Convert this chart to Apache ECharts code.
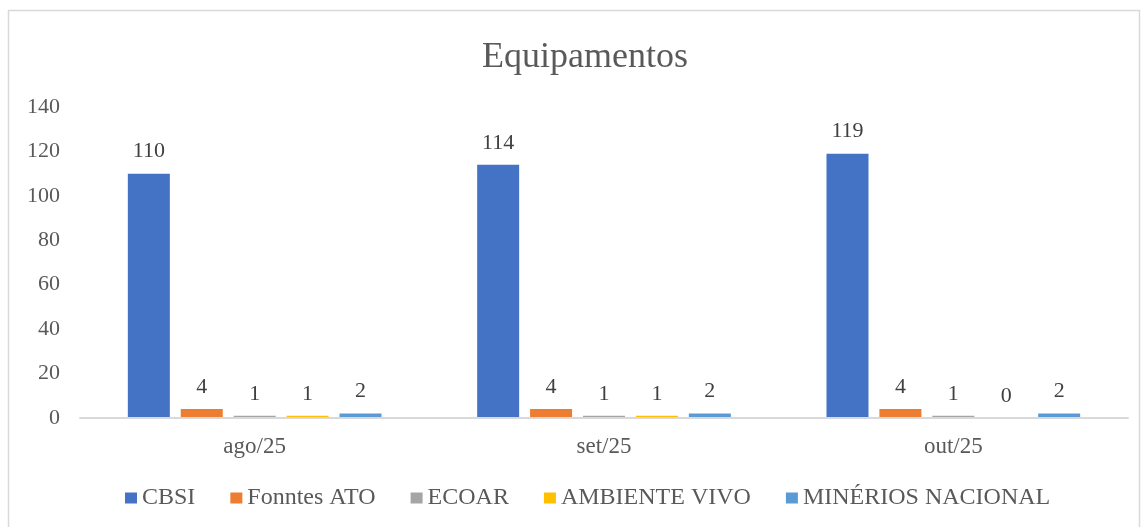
<!DOCTYPE html>
<html>
<head>
<meta charset="utf-8">
<script src="https://cdn.jsdelivr.net/npm/echarts@6/dist/echarts.min.js"></script>
<style>
  html, body { margin: 0; padding: 0; background: #fff; }
  #chart { width: 1148px; height: 527px; }
</style>
</head>
<body>
<div id="chart"></div>
<script>
// dados do gráfico
const categories = ['ago/25', 'set/25', 'out/25']
const seriesNames = ['CBSI', 'Fonntes ATO', 'ECOAR', 'AMBIENTE VIVO', 'MINÉRIOS NACIONAL']
const cbsi = [110, 114, 119]
const fonntesAto = [4, 4, 4]
const ecoar = [1, 1, 1]
const ambienteVivo = [1, 1, 0]
const minerios = [2, 2, 2]
const colors = ['#4472C4', '#ED7D31', '#A5A5A5', '#FFC000', '#5B9BD5']

const font = '"Liberation Serif", "Times New Roman", serif'
const values = [cbsi, fonntesAto, ecoar, ambienteVivo, minerios]

const chart = echarts.init(document.getElementById('chart'))

const series = seriesNames.map((name, i) => ({
  name: name,
  type: 'bar',
  data: values[i],
  barWidth: 42,
  barGap: '26%',
  itemStyle: { color: colors[i] },
  label: {
    show: true,
    position: 'top',
    distance: 11,
    color: '#404040',
    fontFamily: font,
    fontSize: 22
  }
}))

chart.setOption({
  backgroundColor: '#fff',
  animation: false,
  color: colors,
  graphic: [{
    type: 'rect',
    shape: { x: 8.5, y: 10.5, width: 1131, height: 530 },
    style: { fill: 'none', stroke: '#D9D9D9', lineWidth: 1.5 },
    silent: true
  }],
  title: {
    text: 'Equipamentos',
    left: 477,
    top: 35,
    textStyle: {
      fontFamily: font,
      fontSize: 36,
      fontWeight: 'normal',
      color: '#595959'
    }
  },
  legend: {
    data: seriesNames,
    bottom: 12,
    left: 120,
    itemWidth: 12,
    itemHeight: 11,
    itemGap: 35,
    icon: 'rect',
    textStyle: {
      fontFamily: font,
      fontSize: 24,
      color: '#595959'
    }
  },
  grid: {
    left: 80,
    right: 20,
    top: 107,
    bottom: 109,
    containLabel: false
  },
  xAxis: {
    type: 'category',
    data: categories,
    z: 3,
    axisLine: { lineStyle: { color: '#D9D9D9', width: 2 } },
    axisTick: { show: false },
    axisLabel: {
      fontFamily: font,
      fontSize: 23,
      color: '#595959',
      margin: 17
    }
  },
  yAxis: {
    type: 'value',
    min: 0,
    max: 140,
    interval: 20,
    axisLine: { show: false },
    axisTick: { show: false },
    splitLine: { show: false },
    axisLabel: {
      fontFamily: font,
      fontSize: 22,
      color: '#595959',
      margin: 20
    }
  },
  series: series
})
</script>
</body>
</html>
